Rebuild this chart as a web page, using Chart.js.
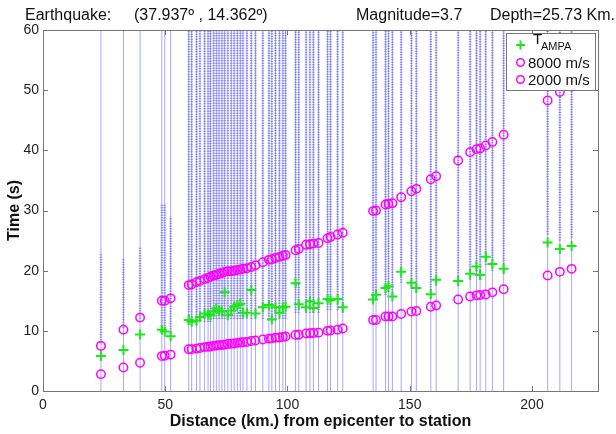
<!DOCTYPE html>
<html>
<head>
<meta charset="utf-8">
<script src="https://cdn.jsdelivr.net/npm/chart.js@4"></script>
<style>
  body { margin: 0; background: #fff; }
  canvas { display: block; }
</style>
</head>
<body>
<canvas id="chart" width="616" height="434"></canvas>
<script>
// station distances (km) and the times (s)
const distances = [23.7, 32.9, 39.7, 48.6, 49.8, 52.2, 59.6, 60.8, 62.8, 64.2,
  66.1, 67.5, 68.5, 69.8, 70.9, 72.0, 73.2, 74.3, 75.6, 77.0,
  78.2, 79.5, 80.7, 81.8, 83.4, 85.2, 86.9, 89.9, 92.4, 93.6,
  95.1, 96.7, 98.1, 99.2, 103.3, 104.6, 107.6, 109.2, 110.6, 112.7,
  116.4, 117.6, 120.5, 122.6, 135.0, 136.2, 140.1, 141.3, 142.9, 146.5,
  150.7, 152.7, 158.6, 160.8, 169.8, 174.7, 177.3, 178.8, 181.1, 183.8,
  188.4, 206.4, 211.4, 216.2];

const tAmpa = [5.8, 6.8, 9.4, 10.2, 9.9, 9.1, 11.8, 11.5, 11.7, 12.3,
  12.9, 12.7, 12.6, 13.2, 13.7, 13.4, 13.2, 16.4, 12.6, 13.4,
  14.0, 14.3, 14.5, 13.0, 13.0, 16.8, 12.9, 13.9, 14.3, 11.9,
  13.9, 13.0, 13.9, 14.0, 17.9, 14.4, 13.9, 14.9, 13.8, 14.6,
  15.3, 15.1, 15.3, 13.9, 15.2, 16.0, 17.1, 17.4, 15.7, 19.8,
  18.0, 17.1, 16.1, 18.5, 18.3, 19.5, 20.7, 19.3, 22.3, 21.1,
  20.3, 24.7, 23.6, 24.1];

const t8000 = [2.8, 3.9, 4.7, 5.8, 5.85, 6.05, 6.95, 6.95, 7.05, 7.15,
  7.3, 7.35, 7.4, 7.5, 7.55, 7.6, 7.65, 7.7, 7.8, 7.85,
  7.9, 8.0, 8.05, 8.1, 8.15, 8.3, 8.4, 8.55, 8.7, 8.75,
  8.85, 8.9, 9.0, 9.05, 9.3, 9.35, 9.55, 9.6, 9.65, 9.7,
  10.0, 10.05, 10.2, 10.4, 11.8, 11.8, 12.4, 12.4, 12.4, 12.8,
  13.2, 13.3, 14.0, 14.2, 15.2, 15.7, 15.9, 15.95, 16.05, 16.4,
  16.9, 19.2, 19.8, 20.3];

const t2000 = [7.5, 10.2, 12.2, 15.0, 15.0, 15.4, 17.6, 17.7, 18.1, 18.3,
  18.6, 18.8, 19.0, 19.2, 19.3, 19.5, 19.6, 19.8, 19.9, 19.9,
  20.0, 20.1, 20.2, 20.3, 20.4, 20.6, 20.9, 21.4, 21.8, 21.9,
  22.1, 22.3, 22.5, 22.6, 23.4, 23.6, 24.3, 24.4, 24.5, 24.6,
  25.4, 25.6, 26.0, 26.3, 29.9, 30.0, 31.0, 31.1, 31.2, 32.2,
  33.2, 33.6, 35.2, 35.7, 38.3, 39.7, 40.2, 40.3, 40.8, 41.4,
  42.6, 48.3, 49.7, 50.6];

// span of the dense part of each seismogram trace (s)
const codaStart = [8, 10.5, 12, 10, 10, 9, 11, 11, 11, 11.5,
  11.5, 11.5, 11.5, 12, 12, 12, 12, 12, 12, 12,
  12, 12, 12, 12, 12, 12, 12, 12, 12, 11.5,
  12, 12, 12, 12, 13, 13, 13, 13, 13, 13,
  13.5, 13.5, 13.5, 13, 15, 15.5, 16, 16.5, 15.5, 18,
  17, 16.5, 16, 17.5, 17.5, 18.5, 19.5, 18.5, 21, 20,
  19.5, 26, 25, 25.5];
const codaEnd = [23, 22, 24, 31, 31, 29, 60, 60, 60, 60,
  60, 60, 60, 60, 60, 60, 60, 60, 60, 60,
  60, 60, 60, 60, 60, 60, 60, 60, 60, 60,
  60, 60, 60, 60, 60, 60, 60, 60, 60, 60,
  60, 60, 60, 60, 60, 60, 60, 60, 60, 60,
  60, 60, 60, 60, 60, 60, 60, 60, 60, 60,
  60, 60, 60, 60];

const xTicks = [0, 50, 100, 150, 200];
const yTicks = [0, 10, 20, 30, 40, 50, 60];

const FONT = "'Liberation Sans', Arial, sans-serif";
const GREEN = "#1ee61e";
const MAGENTA = "#ff00ff";

function segments(starts, ends) {
  const pts = [];
  distances.forEach((d, i) => {
    pts.push({ x: d, y: starts[i] }, { x: d, y: ends[i] }, { x: d, y: null });
  });
  return pts;
}

const traceBottom = distances.map(() => 0);
const traceTop = distances.map(() => 60);

// box, inside ticks, title line and legend
const decor = {
  id: "decor",
  afterDatasetsDraw(chart) {
    const { ctx, chartArea: a, scales } = chart;
    ctx.save();
    ctx.strokeStyle = "#777";
    ctx.lineWidth = 1;
    ctx.beginPath();
    xTicks.forEach(v => {
      const px = Math.round(scales.x.getPixelForValue(v)) + 0.5;
      ctx.moveTo(px, a.bottom); ctx.lineTo(px, a.bottom - 5);
      ctx.moveTo(px, a.top); ctx.lineTo(px, a.top + 5);
    });
    yTicks.forEach(v => {
      const py = Math.round(scales.y.getPixelForValue(v)) + 0.5;
      ctx.moveTo(a.left, py); ctx.lineTo(a.left + 5, py);
      ctx.moveTo(a.right, py); ctx.lineTo(a.right - 5, py);
    });
    ctx.stroke();
    ctx.strokeRect(Math.round(a.left) + 0.5, Math.round(a.top) + 0.5,
      Math.round(a.right - a.left), Math.round(a.bottom - a.top));

    // legend
    const lx = 506, ly = 33, lw = 89, lh = 57;
    ctx.fillStyle = "#fff";
    ctx.fillRect(lx, ly, lw, lh);
    ctx.strokeStyle = "#777";
    ctx.strokeRect(lx + 0.5, ly + 0.5, lw, lh);

    ctx.strokeStyle = GREEN;
    ctx.lineWidth = 2;
    ctx.beginPath();
    ctx.moveTo(516, 45); ctx.lineTo(525, 45);
    ctx.moveTo(520.5, 40.5); ctx.lineTo(520.5, 49.5);
    ctx.stroke();

    ctx.strokeStyle = MAGENTA;
    ctx.lineWidth = 1.5;
    [62.5, 79.5].forEach(cy => {
      ctx.beginPath();
      ctx.arc(520.5, cy, 3.8, 0, Math.PI * 2);
      ctx.stroke();
    });

    ctx.fillStyle = "#111";
    ctx.textBaseline = "alphabetic";
    ctx.font = "15px " + FONT;
    ctx.fillText("T", 533, 44);
    ctx.font = "11px " + FONT;
    ctx.fillText("AMPA", 541, 50);
    ctx.font = "15px " + FONT;
    ctx.fillText("8000 m/s", 528, 68);
    ctx.fillText("2000 m/s", 528, 85);

    // heading
    ctx.font = "16px " + FONT;
    ctx.fillText("Earthquake:", 25, 20);
    ctx.fillText("(37.937º , 14.362º)", 134, 20);
    ctx.fillText("Magnitude=3.7", 356, 20);
    ctx.fillText("Depth=25.73 Km.", 490, 20);
    ctx.restore();
  }
};

new Chart(document.getElementById("chart"), {
  type: "scatter",
  data: {
    datasets: [
      {
        label: "traces",
        data: segments(traceBottom, traceTop),
        showLine: true,
        spanGaps: false,
        borderColor: "rgba(95, 95, 255, 0.55)",
        borderWidth: 1,
        pointRadius: 0,
        order: 5
      },
      {
        label: "coda",
        data: segments(codaStart, codaEnd),
        showLine: true,
        spanGaps: false,
        borderColor: "rgba(45, 45, 225, 0.5)",
        borderWidth: 2.5,
        borderDash: [1, 1.5],
        pointRadius: 0,
        order: 4
      },
      {
        label: "TAMPA",
        data: distances.map((d, i) => ({ x: d, y: tAmpa[i] })),
        pointStyle: "cross",
        pointRadius: 5,
        borderColor: GREEN,
        backgroundColor: GREEN,
        borderWidth: 2,
        order: 3
      },
      {
        label: "8000 m/s",
        data: distances.map((d, i) => ({ x: d, y: t8000[i] })),
        pointStyle: "circle",
        pointRadius: 4.2,
        borderColor: MAGENTA,
        backgroundColor: "rgba(0,0,0,0)",
        borderWidth: 1.5,
        order: 2
      },
      {
        label: "2000 m/s",
        data: distances.map((d, i) => ({ x: d, y: t2000[i] })),
        pointStyle: "circle",
        pointRadius: 4.2,
        borderColor: MAGENTA,
        backgroundColor: "rgba(0,0,0,0)",
        borderWidth: 1.5,
        order: 1
      }
    ]
  },
  options: {
    responsive: false,
    animation: false,
    layout: { padding: { top: 30, right: 18, left: 0, bottom: 0 } },
    plugins: {
      legend: { display: false },
      tooltip: { enabled: false }
    },
    scales: {
      x: {
        type: "linear",
        min: 0,
        max: 227,
        afterBuildTicks: s => { s.ticks = xTicks.map(v => ({ value: v })); },
        afterFit: s => { s.height = 43; },
        grid: { display: false, drawTicks: false },
        border: { display: false },
        ticks: { padding: 6, color: "#222", font: { family: FONT, size: 14 }, maxRotation: 0 },
        title: {
          display: true,
          text: "Distance (km.) from epicenter to station",
          color: "#111",
          font: { family: FONT, size: 16, weight: "bold" },
          padding: { top: 0, bottom: 3 }
        }
      },
      y: {
        type: "linear",
        min: 0,
        max: 60,
        afterBuildTicks: s => { s.ticks = yTicks.map(v => ({ value: v })); },
        afterFit: s => { s.width = 43; },
        grid: { display: false, drawTicks: false },
        border: { display: false },
        ticks: { padding: 4, color: "#222", font: { family: FONT, size: 14 } },
        title: {
          display: true,
          text: "Time (s)",
          color: "#111",
          font: { family: FONT, size: 16, weight: "bold" },
          padding: { top: 5, bottom: 0 }
        }
      }
    }
  },
  plugins: [decor]
});
</script>
</body>
</html>
